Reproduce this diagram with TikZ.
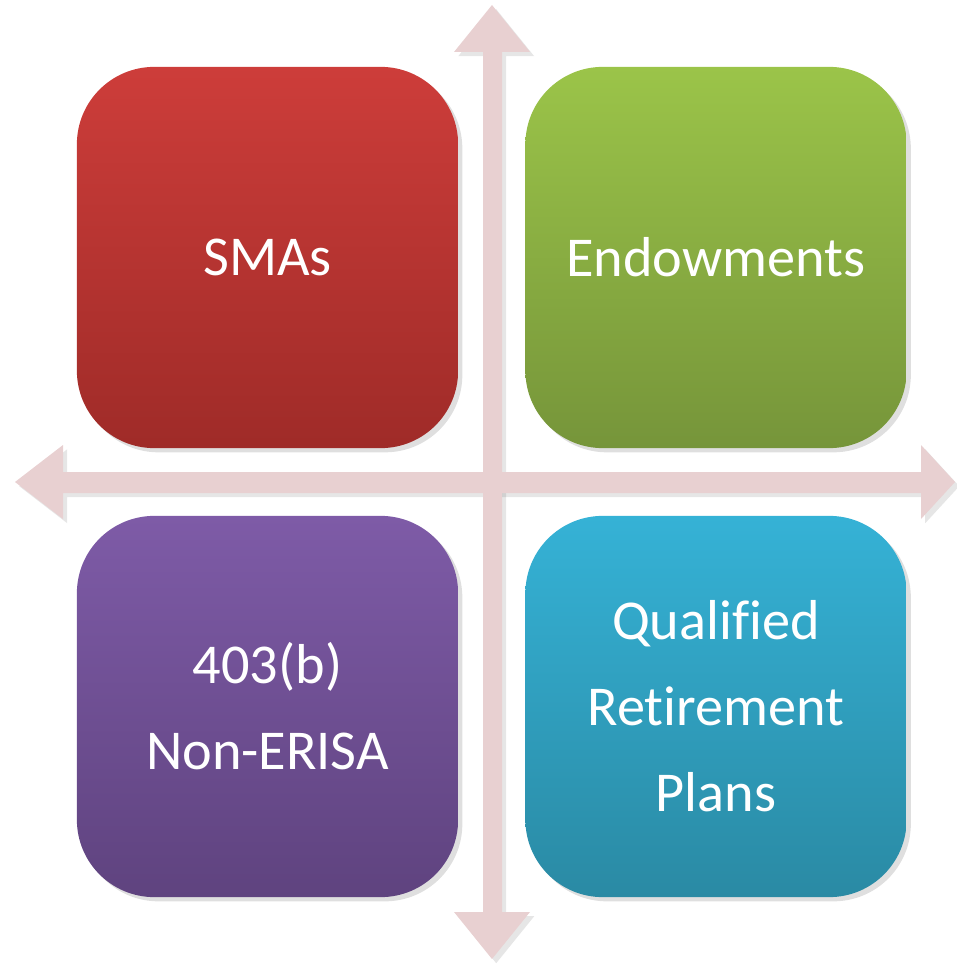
\documentclass[tikz,border=0pt]{standalone}
\usepackage{fontspec}
\setmainfont{Carlito}[Ligatures=NoCommon]
\usetikzlibrary{shadows}
\definecolor{cross}{HTML}{E8D0D1}
\definecolor{redtop}{HTML}{CD3D3A}
\definecolor{redbot}{HTML}{9F2B28}
\definecolor{greentop}{HTML}{9BC449}
\definecolor{greenbot}{HTML}{76953A}
\definecolor{purpletop}{HTML}{7E5BA7}
\definecolor{purplebot}{HTML}{5F437F}
\definecolor{bluetop}{HTML}{35B2D6}
\definecolor{bluebot}{HTML}{2A8AA4}
\tikzset{
  quad/.style={rounded corners=22pt, minimum width=3.81cm, minimum height=3.81cm,
    inner sep=0pt, text=white, align=center, font=\fontsize{16}{24.5}\selectfont,
    drop shadow={shadow xshift=1.2pt, shadow yshift=-1.2pt, opacity=0.25}},
  crossarrow/.style={fill=cross,
    drop shadow={shadow xshift=1.2pt, shadow yshift=-1.2pt, opacity=0.2}}
}
\begin{document}
\begin{tikzpicture}[x=0.01cm,y=-0.01cm]
\useasboundingbox (0,0) rectangle (956,964);
% axes
\path[crossarrow] (492,5) -- (530,52) -- (502,52) -- (502,912) -- (530,912) -- (492,959)
  -- (454,912) -- (483,912) -- (483,52) -- (454,52) -- cycle;
\path[crossarrow] (15,482) -- (63,445) -- (63,472) -- (921,472) -- (921,445) -- (955,482)
  -- (921,519) -- (921,493) -- (63,493) -- (63,519) -- cycle;
\fill[cross] (483,472) rectangle (502,498);
%
\node[quad, top color=redtop, bottom color=redbot] (smas) at (267.5,257.5) {SMAs};
\node[quad, top color=greentop, bottom color=greenbot] (endow) at (716,257.5) {Endowments};
\node[quad, top color=purpletop, bottom color=purplebot] (nonerisa) at (267.5,706.5) {403(b)\\Non-ERISA};
\node[quad, top color=bluetop, bottom color=bluebot] (qrp) at (716,706.5) {Qualified\\Retirement\\Plans};
\end{tikzpicture}
\end{document}
